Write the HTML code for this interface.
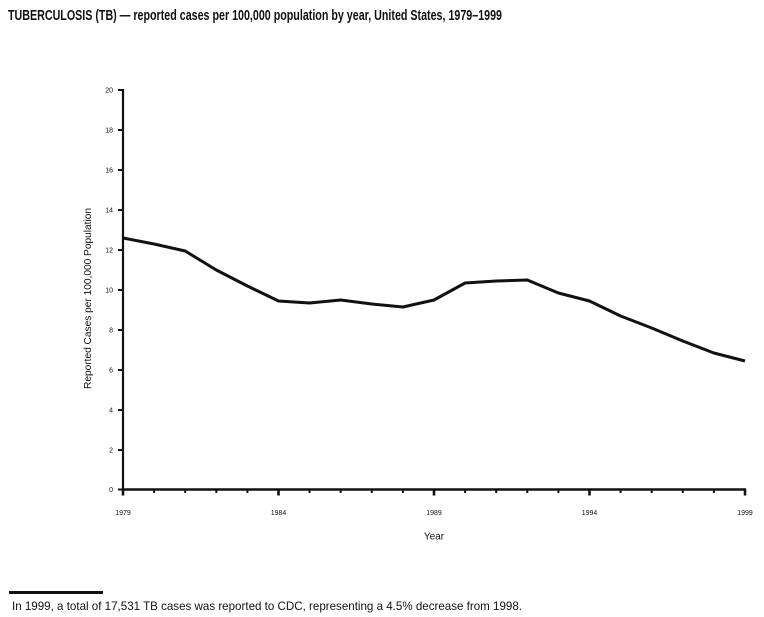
<!DOCTYPE html>
<html>
<head>
<meta charset="utf-8">
<style>
  html, body { margin: 0; padding: 0; background: #fff; }
  svg { display: block; }
  text { font-family: "Liberation Sans", Arial, sans-serif; fill: #111; }
</style>
</head>
<body>
<svg width="764" height="617" viewBox="0 0 764 617" xmlns="http://www.w3.org/2000/svg">
  <rect width="764" height="617" fill="#fff"/>
  <!-- Title -->
  <text x="8" y="20" font-size="14.5" font-weight="bold" textLength="494" lengthAdjust="spacingAndGlyphs">TUBERCULOSIS (TB) — reported cases per 100,000 population by year, United States, 1979–1999</text>

  <!-- Y axis -->
  <line x1="123" y1="89" x2="123" y2="490" stroke="#111" stroke-width="2.2"/>
  <!-- X axis -->
  <line x1="122" y1="489.5" x2="746" y2="489.5" stroke="#111" stroke-width="2.4"/>

  <!-- Y ticks -->
  <g stroke="#111" stroke-width="2">
    <line x1="118" y1="90" x2="123" y2="90"/>
    <line x1="118" y1="130" x2="123" y2="130"/>
    <line x1="118" y1="170" x2="123" y2="170"/>
    <line x1="118" y1="210" x2="123" y2="210"/>
    <line x1="118" y1="250" x2="123" y2="250"/>
    <line x1="118" y1="290" x2="123" y2="290"/>
    <line x1="118" y1="330" x2="123" y2="330"/>
    <line x1="118" y1="370" x2="123" y2="370"/>
    <line x1="118" y1="410" x2="123" y2="410"/>
    <line x1="118" y1="450" x2="123" y2="450"/>
    <line x1="118" y1="489.5" x2="123" y2="489.5"/>
  </g>
  <g font-size="7" text-anchor="end">
    <text x="113" y="92.5">20</text>
    <text x="113" y="132.5">18</text>
    <text x="113" y="172.5">16</text>
    <text x="113" y="212.5">14</text>
    <text x="113" y="252.5">12</text>
    <text x="113" y="292.5">10</text>
    <text x="113" y="332.5">8</text>
    <text x="113" y="372.5">6</text>
    <text x="113" y="412.5">4</text>
    <text x="113" y="452.5">2</text>
    <text x="113" y="492">0</text>
  </g>

  <!-- X ticks -->
  <g stroke="#111" stroke-width="2">
    <line x1="154.1" y1="489" x2="154.1" y2="493"/>
    <line x1="185.2" y1="489" x2="185.2" y2="493"/>
    <line x1="216.3" y1="489" x2="216.3" y2="493"/>
    <line x1="247.4" y1="489" x2="247.4" y2="493"/>
    <line x1="309.6" y1="489" x2="309.6" y2="493"/>
    <line x1="340.7" y1="489" x2="340.7" y2="493"/>
    <line x1="371.8" y1="489" x2="371.8" y2="493"/>
    <line x1="402.9" y1="489" x2="402.9" y2="493"/>
    <line x1="465.1" y1="489" x2="465.1" y2="493"/>
    <line x1="496.2" y1="489" x2="496.2" y2="493"/>
    <line x1="527.3" y1="489" x2="527.3" y2="493"/>
    <line x1="558.4" y1="489" x2="558.4" y2="493"/>
    <line x1="620.6" y1="489" x2="620.6" y2="493"/>
    <line x1="651.7" y1="489" x2="651.7" y2="493"/>
    <line x1="682.8" y1="489" x2="682.8" y2="493"/>
    <line x1="713.9" y1="489" x2="713.9" y2="493"/>
  </g>
  <g stroke="#111" stroke-width="2.6">
    <line x1="123" y1="489" x2="123" y2="495.5"/>
    <line x1="278.5" y1="489" x2="278.5" y2="495.5"/>
    <line x1="434" y1="489" x2="434" y2="495.5"/>
    <line x1="589.5" y1="489" x2="589.5" y2="495.5"/>
    <line x1="745" y1="489" x2="745" y2="495.5"/>
  </g>
  <g font-size="7" text-anchor="middle">
    <text x="123" y="515">1979</text>
    <text x="278.5" y="515">1984</text>
    <text x="434" y="515">1989</text>
    <text x="589.5" y="515">1994</text>
    <text x="745" y="515">1999</text>
  </g>

  <!-- Axis titles -->
  <text x="434" y="539.5" font-size="10" text-anchor="middle">Year</text>
  <text transform="translate(91,298.5) rotate(-90)" font-size="10" text-anchor="middle" textLength="181" lengthAdjust="spacingAndGlyphs">Reported Cases per 100,000 Population</text>

  <!-- Data line -->
  <polyline fill="none" stroke="#111" stroke-width="3" stroke-linejoin="round" stroke-linecap="butt"
    points="123,238 154.1,244 185.2,251 216.3,270 247.4,286 278.5,301 309.6,303 340.7,300 371.8,304 402.9,307 434,300 465.1,283 496.2,281 527.3,280 558.4,293 589.5,301 620.6,316 651.7,328 682.8,341 713.9,353 745,361"/>

  <!-- Footnote -->
  <rect x="9" y="591" width="94" height="3" fill="#111"/>
  <text x="12" y="610" font-size="12" textLength="510" lengthAdjust="spacingAndGlyphs">In 1999, a total of 17,531 TB cases was reported to CDC, representing a 4.5% decrease from 1998.</text>
</svg>
</body>
</html>
